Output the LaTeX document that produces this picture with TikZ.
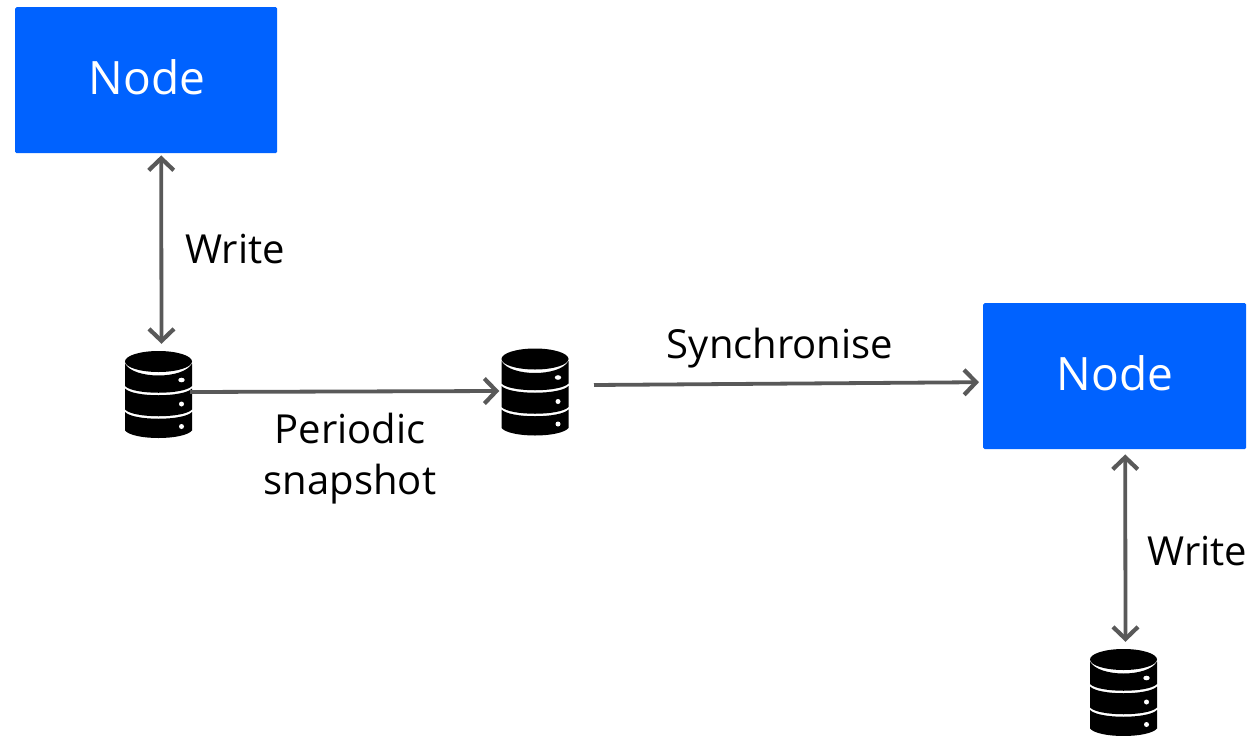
\documentclass[tikz,border=0pt]{standalone}
\usepackage{fontspec}
\setmainfont{Open Sans}
\usetikzlibrary{arrows.meta}
\definecolor{nodeblue}{HTML}{0062FF}
\definecolor{linkgray}{HTML}{595959}
\tikzset{
  x=1pt,y=-1pt,
  nodebox/.style={fill=nodeblue,rounded corners=1.5pt,inner sep=0pt,anchor=north west},
  nodetext/.style={inner sep=0pt,text=white,font=\fontsize{46}{46}\selectfont},
  dbbox/.style={inner sep=0pt,minimum width=67pt,minimum height=87pt},
  lbl/.style={inner sep=0pt,align=center,text=black,font=\fontsize{40}{51}\selectfont},
  link/.style={draw=linkgray,line width=3.8pt,-{Straight Barb[length=12pt,width=25pt,line width=4.2pt]}},
  bilink/.style={draw=linkgray,line width=3.8pt,{Straight Barb[length=12pt,width=25pt,line width=4.2pt]}-{Straight Barb[length=12pt,width=25pt,line width=4.2pt]}},
}
\newcommand{\dbicon}[3]{%
  \node[dbbox] (#1) at (#2,#3) {};
  \begin{scope}[shift={(#2,#3)}]
    \fill[black] (-33.5,-31) -- (-33.5,-8.5) .. controls (-25,0.5) and (25,0.5) .. (33.5,-8.5) -- (33.5,-31) .. controls (25,-15) and (-25,-15) .. (-33.5,-31) -- cycle;
    \fill[black] (-33.5,-6) -- (-33.5,15) .. controls (-25,24) and (25,24) .. (33.5,15) -- (33.5,-6) .. controls (25,3) and (-25,3) .. (-33.5,-6) -- cycle;
    \fill[black] (-33.5,17.5) -- (-33.5,36) .. controls (-25,46) and (25,46) .. (33.5,36) -- (33.5,17.5) .. controls (25,26.5) and (-25,26.5) .. (-33.5,17.5) -- cycle;
    \fill[black] (0,-33) ellipse [x radius=33.5pt, y radius=10.5pt];
    \fill[white] (23,-14.5) ellipse [x radius=3.2pt, y radius=2.3pt];
    \fill[white] (23,9.5) circle [radius=2.5pt];
    \fill[white] (23,32) circle [radius=2.5pt];
  \end{scope}}
\begin{document}
\begin{tikzpicture}
\useasboundingbox (0,0) rectangle (1258,736);
\node[nodebox,minimum width=262pt,minimum height=146pt] (n1) at (15,7) {};
\node[nodebox,minimum width=263pt,minimum height=146pt] (n2) at (983,303) {};
\node[nodetext] (n1t) at (147,77) {Node};
\node[nodetext] (n2t) at (1115,373) {Node};
\dbicon{db1}{158.5}{394.5}
\dbicon{db2}{535}{392}
\dbicon{db3}{1123.5}{692.5}
\draw[bilink] ([xshift=15pt,yshift=-2pt]n1.south) -- ([xshift=3pt,yshift=7pt]db1.north);
\draw[link] ([xshift=-2pt,yshift=2.5pt]db1.east) -- ([xshift=-2pt,yshift=1pt]db2.west);
\coordinate (syncstart) at (594,385);
\draw[link] (syncstart) -- ([xshift=-4pt,yshift=-6pt]n2.west);
\draw[bilink] ([xshift=10.5pt,yshift=-5pt]n2.south) -- ([xshift=2pt,yshift=7pt]db3.north);
\node[lbl] (w1) at (235,249) {Write};
\node[lbl] (ps) at (350,459) {Periodic\\snapshot};
\node[lbl] (sy) at (780,348) {Synchronise};
\node[lbl] (w2) at (1197.5,551) {Write};
\end{tikzpicture}
\end{document}
